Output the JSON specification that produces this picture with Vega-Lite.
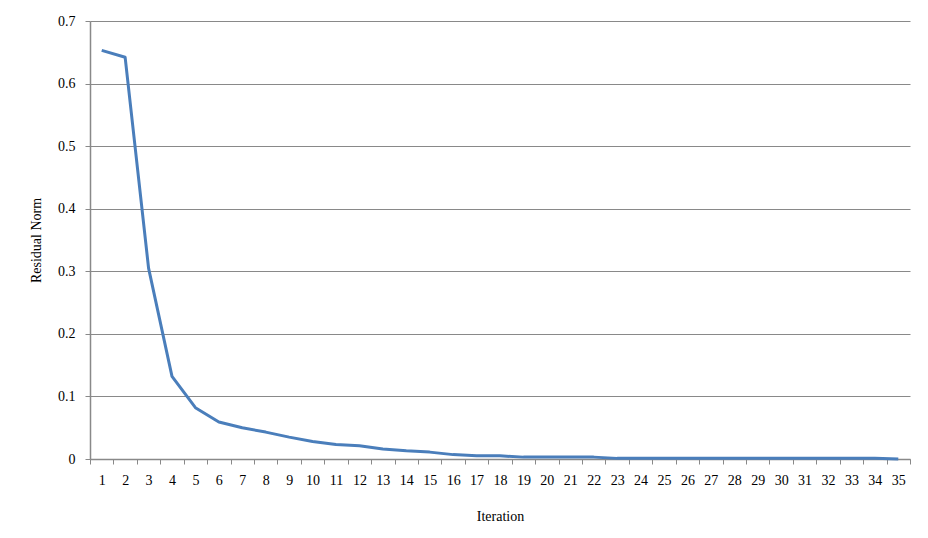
{
  "$schema": "https://vega.github.io/schema/vega-lite/v6.json",
  "width": 820,
  "height": 438,
  "autosize": {"type": "none"},
  "padding": {"left": 90, "top": 21, "right": 18, "bottom": 79},
  "background": "white",
  "config": {
    "view": {"stroke": null},
    "font": "Liberation Serif"
  },
  "data": {
    "values": [
      {"iteration": 1, "norm": 0.653},
      {"iteration": 2, "norm": 0.642},
      {"iteration": 3, "norm": 0.305},
      {"iteration": 4, "norm": 0.132},
      {"iteration": 5, "norm": 0.082},
      {"iteration": 6, "norm": 0.059},
      {"iteration": 7, "norm": 0.050},
      {"iteration": 8, "norm": 0.043},
      {"iteration": 9, "norm": 0.035},
      {"iteration": 10, "norm": 0.028},
      {"iteration": 11, "norm": 0.023},
      {"iteration": 12, "norm": 0.021},
      {"iteration": 13, "norm": 0.016},
      {"iteration": 14, "norm": 0.013},
      {"iteration": 15, "norm": 0.011},
      {"iteration": 16, "norm": 0.007},
      {"iteration": 17, "norm": 0.005},
      {"iteration": 18, "norm": 0.005},
      {"iteration": 19, "norm": 0.003},
      {"iteration": 20, "norm": 0.003},
      {"iteration": 21, "norm": 0.003},
      {"iteration": 22, "norm": 0.003},
      {"iteration": 23, "norm": 0.001},
      {"iteration": 24, "norm": 0.001},
      {"iteration": 25, "norm": 0.001},
      {"iteration": 26, "norm": 0.001},
      {"iteration": 27, "norm": 0.001},
      {"iteration": 28, "norm": 0.001},
      {"iteration": 29, "norm": 0.001},
      {"iteration": 30, "norm": 0.001},
      {"iteration": 31, "norm": 0.001},
      {"iteration": 32, "norm": 0.001},
      {"iteration": 33, "norm": 0.001},
      {"iteration": 34, "norm": 0.001},
      {"iteration": 35, "norm": 0.0}
    ]
  },
  "mark": {"type": "line", "color": "#4A7EBB", "strokeWidth": 3, "strokeJoin": "round"},
  "encoding": {
    "x": {
      "field": "iteration",
      "type": "ordinal",
      "scale": {"paddingInner": 0, "paddingOuter": 0},
      "axis": {
        "title": "Iteration",
        "titleFont": "Liberation Serif",
        "titleFontSize": 14,
        "titleFontWeight": "normal",
        "titleColor": "#000000",
        "titlePadding": 22,
        "labelAngle": 0,
        "labelFont": "Liberation Serif",
        "labelFontSize": 14,
        "labelColor": "#000000",
        "labelPadding": 9,
        "tickBand": "extent",
        "tickSize": 5,
        "tickColor": "#898989",
        "domainColor": "#898989",
        "domainWidth": 1.5,
        "grid": false
      }
    },
    "y": {
      "field": "norm",
      "type": "quantitative",
      "scale": {"domain": [0, 0.7], "nice": false, "zero": true},
      "axis": {
        "title": "Residual Norm",
        "titleFont": "Liberation Serif",
        "titleFontSize": 14,
        "titleFontWeight": "normal",
        "titleColor": "#000000",
        "titlePadding": 14,
        "values": [0, 0.1, 0.2, 0.3, 0.4, 0.5, 0.6, 0.7],
        "format": "~g",
        "labelFont": "Liberation Serif",
        "labelFontSize": 14,
        "labelColor": "#000000",
        "labelPadding": 10,
        "tickSize": 5,
        "tickColor": "#898989",
        "domainColor": "#898989",
        "domainWidth": 1.5,
        "grid": true,
        "gridColor": "#898989",
        "gridWidth": 1.2
      }
    }
  }
}
